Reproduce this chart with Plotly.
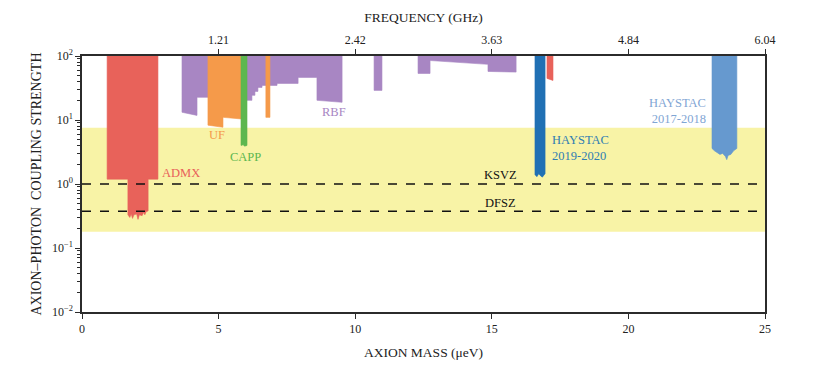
import numpy as np
import plotly.graph_objects as go

# ---------------- data ----------------
mass_ticks = [0, 5, 10, 15, 20, 25]
freq_tick_mass = [5, 10, 15, 20, 25]
freq_tick_labels = ["1.21", "2.42", "3.63", "4.84", "6.04"]
g_tick_vals = [0.01, 0.1, 1, 10, 100]
g_tick_labels = ["10<sup>−2</sup>", "10<sup>−1</sup>", "10<sup>0</sup>", "10<sup>1</sup>", "10<sup>2</sup>"]

g_top = 100.0                      # upper edge of every exclusion region
band_lo, band_hi = 0.18, 7.6       # QCD axion model band
ksvz, dfsz = 1.0, 0.375            # benchmark couplings

admx_mass = [0.92, 1.68, 1.68, 1.75, 1.80, 1.85, 1.90, 2.00, 2.05, 2.10, 2.20, 2.25, 2.30, 2.35, 2.42, 2.42, 2.78]
admx_limit = [1.19, 1.19, 0.33, 0.30, 0.34, 0.29, 0.33, 0.34, 0.28, 0.33, 0.32, 0.36, 0.33, 0.37, 0.38, 1.19, 1.19]

admx2_mass = [17.02, 17.24]
admx2_limit = [44.7, 41.5]

rbf_mass = [3.66, 4.21, 4.21, 5.82, 6.04, 6.22, 6.22, 6.33, 6.33, 6.44, 6.44, 6.59, 6.59, 7.14, 7.14, 7.91, 7.91, 8.60, 8.60, 9.52]
rbf_limit = [13.2, 11.8, 22.6, 22.6, 20.3, 20.3, 24.3, 24.3, 28.0, 28.0, 32.3, 32.3, 34.7, 34.7, 37.3, 37.3, 46.3, 46.3, 20.3, 18.9]

rbf2_mass = [10.69, 10.98]
rbf2_limit = [29.0, 29.0]

rbf3_mass = [12.30, 12.74, 12.74, 14.86, 14.86, 15.89]
rbf3_limit = [53.4, 53.4, 85.0, 74.0, 57.4, 56.0]

uf_mass = [4.61, 5.16, 5.16, 5.82]
uf_limit = [8.3, 7.7, 11.0, 10.4]

uf2_mass = [6.73, 6.88]
uf2_limit = [11.0, 11.0]

capp_mass = [5.82, 5.90, 5.95, 6.04]
capp_limit = [4.0, 4.1, 3.9, 4.0]

hay19_mass = [16.58, 16.65, 16.72, 16.78, 16.85, 16.95]
hay19_limit = [1.40, 1.30, 1.45, 1.35, 1.28, 1.45]

hay17_mass = [23.06, 23.15, 23.25, 23.35, 23.45, 23.55, 23.60, 23.65, 23.75, 23.85, 23.97]
hay17_limit = [3.6, 3.3, 3.1, 2.9, 3.0, 2.7, 2.4, 2.8, 2.9, 3.3, 3.6]

# ---------------- style ----------------
FONT = "Liberation Serif, DejaVu Serif, serif"
AXC = "#2b2b2b"
C_ADMX = "#E8625A"
C_UF = "#F59A4A"
C_CAPP = "#5DB74F"
C_RBF = "#A886C3"
C_H19 = "#2070B4"
C_H17 = "#6699CF"
C_BAND = "#F8F3A6"

fig = go.Figure()

# model band
fig.add_trace(go.Scatter(x=[mass_ticks[0], mass_ticks[-1], mass_ticks[-1], mass_ticks[0]],
                         y=[band_lo, band_lo, band_hi, band_hi],
                         fill="toself", fillcolor=C_BAND, mode="lines",
                         line=dict(width=0, color=C_BAND), hoverinfo="skip", showlegend=False))


def region(m, lim, color):
    xs = [m[0]] + list(m) + [m[-1]]
    ys = [g_top] + list(lim) + [g_top]
    fig.add_trace(go.Scatter(x=xs, y=ys, fill="toself", fillcolor=color, mode="lines",
                             line=dict(width=0.6, color=color), hoverinfo="skip", showlegend=False))


region(rbf_mass, rbf_limit, C_RBF)
region(rbf2_mass, rbf2_limit, C_RBF)
region(rbf3_mass, rbf3_limit, C_RBF)
region(uf_mass, uf_limit, C_UF)
region(uf2_mass, uf2_limit, C_UF)
region(capp_mass, capp_limit, C_CAPP)
region(admx_mass, admx_limit, C_ADMX)
region(admx2_mass, admx2_limit, C_ADMX)
region(hay19_mass, hay19_limit, C_H19)
region(hay17_mass, hay17_limit, C_H17)

# benchmark lines (on the top axis so they sit above all regions)
for val in (ksvz, dfsz):
    fig.add_trace(go.Scatter(x=[mass_ticks[0], mass_ticks[-1]], y=[val, val], xaxis="x2",
                             mode="lines", line=dict(color="#111111", width=1.3, dash="dash"),
                             hoverinfo="skip", showlegend=False))

labels = [
    ("ADMX", 3.62, 1.48, C_ADMX, "center"),
    ("UF", 4.94, 5.78, C_UF, "center"),
    ("CAPP", 6.0, 2.62, C_CAPP, "center"),
    ("RBF", 9.22, 13.2, C_RBF, "center"),
    ("HAYSTAC<br>2019-2020", 17.13, 3.69, "#2F7DB2", "left"),
    ("HAYSTAC<br>2017-2018", 22.91, 13.7, "#7FA5D4", "right"),
    ("KSVZ", 15.3, 1.38, "#111111", "center"),
    ("DFSZ", 15.3, 0.505, "#111111", "center"),
]
for txt, x, y, c, anc in labels:
    fig.add_annotation(x=x, y=np.log10(y), xref="x", yref="y", text=txt, showarrow=False,
                       xanchor=anc, yanchor="middle", align=anc,
                       font=dict(family=FONT, size=12.5, color=c))

axis_common = dict(showline=True, linecolor=AXC, linewidth=1.5, ticks="outside",
                   tickcolor=AXC, tickwidth=1.3, ticklen=5, showgrid=False, zeroline=False,
                   automargin=False,
                   tickfont=dict(family=FONT, size=12, color="#222222"))

# the page body adds an 8px offset, so margins are shifted accordingly
fig.update_layout(
    width=820, height=368,
    margin=dict(l=74, r=63, t=48, b=64),
    plot_bgcolor="white", paper_bgcolor="white",
    showlegend=False,
    xaxis=dict(range=[mass_ticks[0], mass_ticks[-1]], tickvals=mass_ticks,
               title=dict(text="AXION MASS (μeV)", standoff=12,
                          font=dict(family=FONT, size=13.5, color="#222222")),
               **axis_common),
    xaxis2=dict(range=[mass_ticks[0], mass_ticks[-1]], overlaying="x", side="top",
                tickvals=freq_tick_mass, ticktext=freq_tick_labels,
                title=dict(text="FREQUENCY (GHz)", standoff=8,
                           font=dict(family=FONT, size=13.5, color="#222222")),
                **axis_common),
    yaxis=dict(type="log", range=[-2, 2], tickvals=g_tick_vals, ticktext=g_tick_labels,
               mirror=True,
               minor=dict(ticks="outside", ticklen=3, tickcolor=AXC, dtick="D1", showgrid=False),
               title=dict(text="AXION–PHOTON  COUPLING STRENGTH", standoff=7,
                          font=dict(family=FONT, size=14, color="#222222")),
               **axis_common),
)

fig.write_html("out.html")
